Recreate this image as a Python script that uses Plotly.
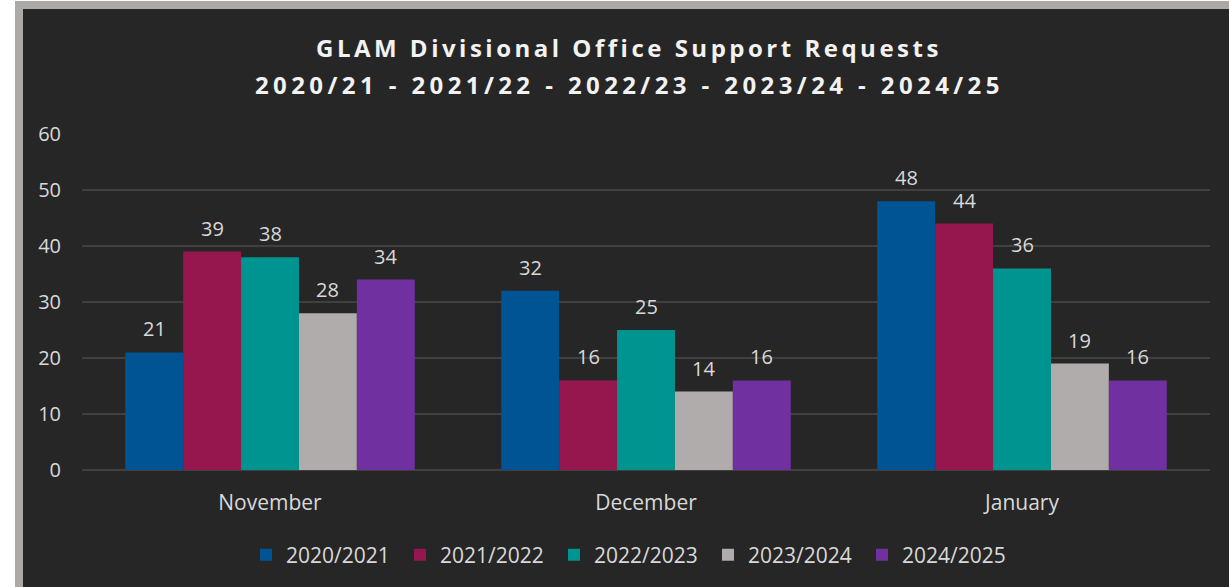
import plotly.graph_objects as go

categories = ["November", "December", "January"]
series_names = ["2020/2021", "2021/2022", "2022/2023", "2023/2024", "2024/2025"]
values = {
    "2020/2021": [21, 32, 48],
    "2021/2022": [39, 16, 44],
    "2022/2023": [38, 25, 36],
    "2023/2024": [28, 14, 19],
    "2024/2025": [34, 16, 16],
}
title_lines = ["GLAM Divisional Office Support Requests",
               "2020/21 - 2021/22 - 2022/23 - 2023/24 - 2024/25"]
colors = ["#005494", "#95174D", "#009490", "#AFACAB", "#7030A0"]

W, H = 1229, 587
OFF = 0  # page body margin removed via post_script
ML, MT = 82 - OFF, 134 - OFF
PW, PH = 1128, 336
MR = W - ML - PW
MB = H - MT - PH
BARGAP = 0.23

def px_x(x):
    return (x - OFF - ML) / PW

def px_y(y):
    return 1 - (y - OFF - MT) / PH

TXT = "#D9D9D9"
FONT = "Open Sans"

fig = go.Figure()
for name, c in zip(series_names, colors):
    fig.add_trace(go.Bar(name=name, x=categories, y=values[name],
                         marker=dict(color=c, line=dict(width=0))))

# data labels
bar_px = PW / len(categories) * (1 - BARGAP) / len(series_names)
n = len(series_names)
for i, name in enumerate(series_names):
    for cat, v in zip(categories, values[name]):
        fig.add_annotation(x=cat, y=v, xref="x", yref="y", text=str(v),
                           showarrow=False, yanchor="bottom",
                           xshift=(i - (n - 1) / 2) * bar_px, yshift=8,
                           font=dict(family=FONT, size=20, color=TXT))

# title lines
for line, ypx, ls in zip(title_lines, [47, 84], [3.5, 4.4]):
    fig.add_annotation(xref="paper", yref="paper", x=px_x(629), y=px_y(ypx),
                       text='<span style="letter-spacing:%spx">' % ls + line + '</span>',
                       showarrow=False, xanchor="center", yanchor="middle",
                       font=dict(family=FONT, size=24, color="#F2F2F2", weight="bold"))

# card background with border
fig.add_shape(type="rect", xref="paper", yref="paper", layer="below",
              x0=px_x(19), x1=px_x(1260), y0=px_y(5), y1=px_y(640),
              line=dict(color="#ADA9A7", width=8), fillcolor="#262626")

fig.update_layout(
    width=W, height=H,
    margin=dict(l=ML, r=MR, t=MT, b=MB, pad=0),
    paper_bgcolor="#FFFFFF", plot_bgcolor="rgba(0,0,0,0)",
    barmode="group", bargap=BARGAP, bargroupgap=0,
    showlegend=True,
    legend=dict(orientation="h", x=px_x(631), xanchor="center",
                y=px_y(555), yanchor="middle",
                font=dict(family=FONT, size=21, color=TXT),
                bgcolor="rgba(0,0,0,0)", itemwidth=30, traceorder="normal",
                entrywidth=109, entrywidthmode="pixels"),
    font=dict(family=FONT, color=TXT),
)
fig.update_xaxes(showgrid=False, showline=False, zeroline=False, ticks="",
                 tickfont=dict(family=FONT, size=21, color=TXT), ticklabelstandoff=18)
fig.update_yaxes(range=[0, 60], dtick=10, showgrid=True, gridcolor="#404040", gridwidth=1.5,
                 zeroline=True, zerolinecolor="#404040", zerolinewidth=1.5,
                 showline=False, ticks="",
                 tickfont=dict(family=FONT, size=20, color=TXT), ticklabelstandoff=20)

fig.write_html("out.html", config={"displayModeBar": False},
               post_script="document.body.style.margin='0px';")
